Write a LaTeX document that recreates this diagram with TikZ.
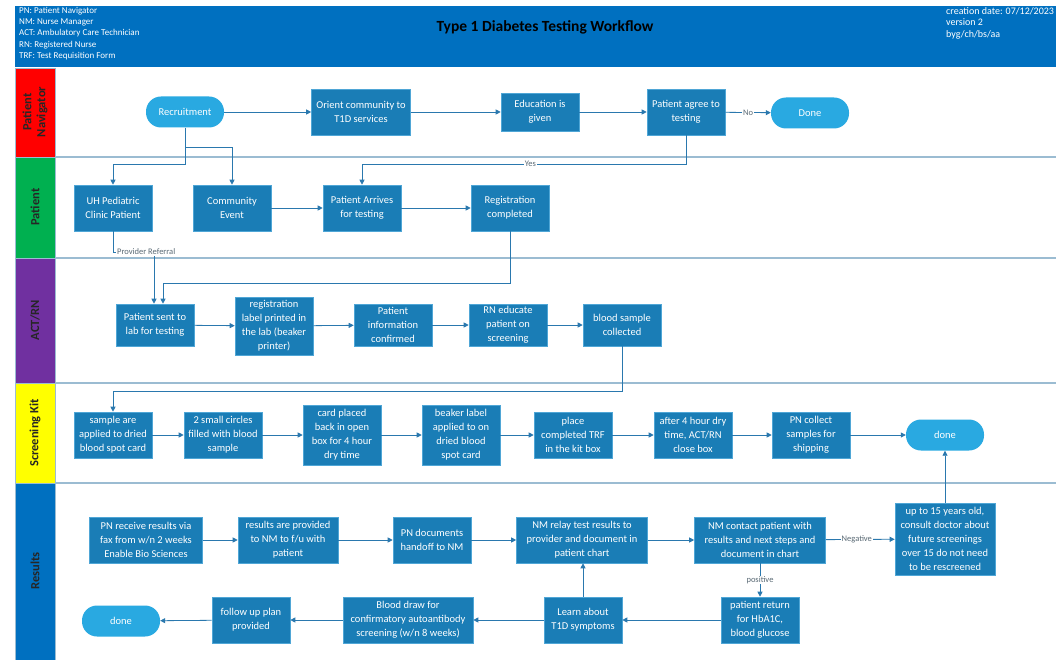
\documentclass[tikz,border=0pt]{standalone}
\usepackage{fontspec}
\setmainfont{Carlito}
\usetikzlibrary{arrows.meta}
\definecolor{boxfill}{HTML}{1A7DB6}
\definecolor{boxedge}{HTML}{4FA6D6}
\definecolor{termfill}{HTML}{29A9E1}
\definecolor{linec}{HTML}{2A78AE}
\definecolor{sepc}{HTML}{9BBCD2}
\definecolor{hdr}{HTML}{0070C0}
\definecolor{lred}{HTML}{FF0000}
\definecolor{lgreen}{HTML}{00B050}
\definecolor{lpurple}{HTML}{7030A0}
\definecolor{lyellow}{HTML}{FFFF00}
\definecolor{lblue}{HTML}{0070C0}
\definecolor{labgray}{HTML}{5A6A75}
\tikzset{
  proc/.style={draw=boxedge, line width=0.6pt, fill=boxfill, text=white, align=center,
    font=\fontsize{10.5}{14}\selectfont, minimum width=78pt, minimum height=46pt, inner sep=1pt},
  term/.style={fill=termfill, text=white, rounded corners=15pt, minimum width=78pt,
    minimum height=31pt, font=\fontsize{10.5}{12}\selectfont},
  conn/.style={draw=linec, line width=0.8pt, -{Triangle[length=5pt,width=5pt]}},
  plain/.style={draw=linec, line width=0.8pt},
  elab/.style={fill=white, text=labgray, font=\fontsize{8.5}{9}\selectfont, inner sep=0.8pt},
  lanesep/.style={draw=sepc, line width=1.3pt},
  lanelab/.style={draw=sepc, line width=0.5pt},
  lanetxt/.style={rotate=90, align=center, font=\bfseries\fontsize{12.5}{14}\selectfont, text=black!85}
}
\begin{document}
\begin{tikzpicture}[x=1pt,y=-1pt]
\useasboundingbox (0,0) rectangle (1056,660);
\fill[white] (0,0) rectangle (1056,660);
% header
\fill[hdr] (15,6) rectangle (1056,67);
\node[anchor=north west, align=left, text=white, font=\fontsize{9}{11.2}\selectfont, inner sep=0pt] (legend) at (19,7)
 {PN: Patient Navigator\\NM: Nurse Manager\\ACT: Ambulatory Care Technician\\RN: Registered Nurse\\TRF: Test Requisition Form};
\node[font=\bfseries\fontsize{15.5}{17}\selectfont, text=black] (title) at (545,27) {Type 1 Diabetes Testing Workflow};
\node[anchor=north west, align=left, text=white, font=\fontsize{10}{11.5}\selectfont, inner sep=0pt] (meta) at (946,7)
 {creation date: 07/12/2023\\version 2\\byg/ch/bs/aa};
% lanes
\filldraw[lanelab, fill=lred] (15,68) rectangle (55,157);
\filldraw[lanelab, fill=lgreen] (15,157) rectangle (55,258);
\filldraw[lanelab, fill=lpurple] (15,258) rectangle (55,383);
\filldraw[lanelab, fill=lyellow] (15,383) rectangle (55,483);
\filldraw[lanelab, fill=lblue] (15,483) rectangle (55,660);
\node[lanetxt] (l1) at (35,112) {Patient\\Navigator};
\node[lanetxt] (l2) at (35,207) {Patient};
\node[lanetxt] (l3) at (35,320) {ACT/RN};
\node[lanetxt] (l4) at (35,433) {Screening Kit};
\node[lanetxt] (l5) at (35,571) {Results};
\draw[lanesep] (55,157) -- (1056,157);
\draw[lanesep] (55,258) -- (1056,258);
\draw[lanesep] (55,383) -- (1056,383);
\draw[lanesep] (55,483) -- (1056,483);
% lane 1
\node[term] (rec) at (185,112) {Recruitment};
\node[proc, minimum width=99pt] (orient) at (361,112) {Orient community to\\T1D services};
\node[proc, minimum height=38pt] (edu) at (540,112) {Education is\\given};
\node[proc] (agree) at (686,112) {Patient agree to\\testing};
\node[term] (done1) at (810,113) {Done};
% lane 2
\node[proc] (uh) at (113,208) {UH Pediatric\\Clinic Patient};
\node[proc] (ce) at (232,208) {Community\\Event};
\node[proc] (arr) at (362,208) {Patient Arrives\\for testing};
\node[proc] (reg) at (510,208) {Registration\\completed};
% lane 3
\node[proc, minimum height=42pt] (ps) at (155,325) {Patient sent to\\lab for testing};
\node[proc, minimum height=58pt] (rl) at (274,326) {registration\\label printed in\\the lab (beaker\\printer)};
\node[proc, minimum height=42pt] (pic) at (393,325) {Patient\\information\\confirmed};
\node[proc, minimum height=42pt] (rn) at (508,325) {RN educate\\patient on\\screening};
\node[proc, minimum height=42pt] (bs) at (622,325) {blood sample\\collected};
% lane 4
\node[proc] (sa) at (113,435) {sample are\\applied to dried\\blood spot card};
\node[proc] (sc) at (223,435) {2 small circles\\filled with blood\\sample};
\node[proc, minimum height=60pt] (cp) at (342,435) {card placed\\back in open\\box for 4 hour\\dry time};
\node[proc, minimum height=60pt] (bl) at (461,435) {beaker label\\applied to on\\dried blood\\spot card};
\node[proc] (tr) at (573,435) {place\\completed TRF\\in the kit box};
\node[proc] (ad) at (693,435) {after 4 hour dry\\time, ACT/RN\\close box};
\node[proc] (pn) at (811,435) {PN collect\\samples for\\shipping};
\node[term] (done2) at (945,435) {done};
% lane 5
\node[proc, minimum width=113pt] (prr) at (146,540) {PN receive results via\\fax from w/n 2 weeks\\Enable Bio Sciences};
\node[proc, minimum width=100pt] (rp) at (288,540) {results are provided\\to NM to f/u with\\patient};
\node[proc] (pnd) at (432,540) {PN documents\\handoff to NM};
\node[proc, minimum width=131pt] (nmr) at (582,540) {NM relay test results to\\provider and document in\\patient chart};
\node[proc, minimum width=131pt] (nmc) at (760,540) {NM contact patient with\\results and next steps and\\document in chart};
\node[proc, minimum width=100pt, minimum height=72pt] (u15) at (945,539) {up to 15 years old,\\consult doctor about\\future screenings\\over 15 do not need\\to be rescreened};
\node[proc] (pret) at (760,620) {patient return\\for HbA1C,\\blood glucose};
\node[proc] (learn) at (583,620) {Learn about\\T1D symptoms};
\node[proc, minimum width=130pt] (bd) at (408,620) {Blood draw for\\confirmatory autoantibody\\screening (w/n 8 weeks)};
\node[proc] (fu) at (251,620) {follow up plan\\provided};
\node[term] (done3) at (121,621) {done};
% coordinates
\coordinate (j1) at (185,147);
\coordinate (j2) at (185,164);
\coordinate (ya) at (686,164);
\coordinate (yb) at (362,164);
\coordinate (pr1) at (154,252);
\coordinate (rc1) at (510,283);
\coordinate (rc2) at (163,283);
\coordinate (bs1) at (622,391);
\coordinate (bs2) at (113,391);
% connectors lane 1/2
\draw[conn] (rec) -- (orient);
\draw[conn] (orient) -- (edu);
\draw[conn] (edu) -- (agree);
\draw[conn] (agree) -- node[elab]{No} (done1);
\draw[plain] (rec.south) -- (j1);
\draw[conn] (j1) -| (ce.north);
\draw[conn] (j1) -- (j2) -| (uh.north);
\draw[conn] (agree.south) -- (ya) -- node[elab, pos=0.48]{Yes} (yb) -- (arr.north);
\draw[conn] (ce) -- (arr);
\draw[conn] (arr) -- (reg);
% to lane 3
\draw[conn] (uh.south) |- (pr1) -- (pr1 |- ps.north);
\node[elab, anchor=west, inner sep=1pt] (provref) at (116,252) {Provider Referral};
\draw[conn] (reg.south) -- (rc1) -- (rc2) -- (rc2 |- ps.north);
\draw[conn] (ps) -- (rl);
\draw[conn] (rl) -- (pic);
\draw[conn] (pic) -- (rn);
\draw[conn] (rn) -- (bs);
% lane 4
\draw[conn] (bs.south) -- (bs1) -- (bs2) -- (sa.north);
\draw[conn] (sa) -- (sc);
\draw[conn] (sc) -- (cp);
\draw[conn] (cp) -- (bl);
\draw[conn] (bl) -- (tr);
\draw[conn] (tr) -- (ad);
\draw[conn] (ad) -- (pn);
\draw[conn] (pn) -- (done2);
% lane 5
\draw[conn] (prr) -- (rp);
\draw[conn] (rp) -- (pnd);
\draw[conn] (pnd) -- (nmr);
\draw[conn] (nmr) -- (nmc);
\draw[conn] (nmc) -- node[elab, pos=0.45]{Negative} (u15);
\draw[conn] (u15.north) -- (done2.south);
\draw[conn] (nmc.south) -- node[elab, pos=0.5]{positive} (pret.north);
\draw[conn] (pret) -- (learn);
\draw[conn] (learn.north) -- (nmr.south -| learn.north);
\draw[conn] (learn) -- (bd);
\draw[conn] (bd) -- (fu);
\draw[conn] (fu) -- (done3);
\end{tikzpicture}
\end{document}
